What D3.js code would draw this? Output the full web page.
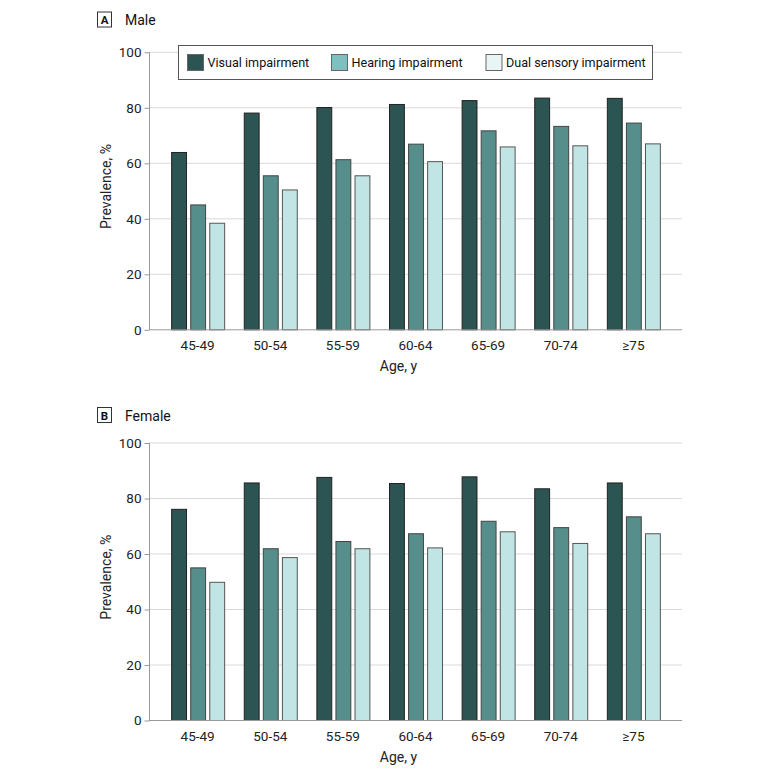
<!DOCTYPE html>
<html>
<head>
<meta charset="utf-8">
<script src="https://cdn.jsdelivr.net/npm/d3@7"></script>
<style>
  body { margin: 0; background: #fff; }
  svg { display: block; font-family: Roboto, "Liberation Sans", Arial, sans-serif; }
</style>
</head>
<body>
<svg id="chart" width="780" height="775"></svg>
<script>
const ageGroups = ["45-49", "50-54", "55-59", "60-64", "65-69", "70-74", "\u226575"];
const seriesNames = ["Visual impairment", "Hearing impairment", "Dual sensory impairment"];
const maleVisual  = [63.9, 78.1, 80.1, 81.2, 82.6, 83.5, 83.4];
const maleHearing = [45.0, 55.5, 61.3, 66.9, 71.7, 73.3, 74.5];
const maleDual    = [38.4, 50.4, 55.5, 60.6, 65.9, 66.3, 67.0];
const femaleVisual  = [76.1, 85.6, 87.6, 85.4, 87.8, 83.5, 85.6];
const femaleHearing = [55.0, 61.9, 64.5, 67.3, 71.8, 69.5, 73.4];
const femaleDual    = [49.8, 58.7, 61.9, 62.2, 68.0, 63.8, 67.3];
const yTicks = [0, 20, 40, 60, 80, 100];

const barColors = ["#2b5452", "#568e8b", "#c0e5e4"];
const legendColors = ["#2b5452", "#7fbfbf", "#e9f5f5"];
const barStrokes = ["#222", "#444", "#555"];
const FONT = "Roboto, Liberation Sans, Arial, sans-serif";

const svg = d3.select("#chart");
const left = 149, right = 682;

const x0 = d3.scaleBand().domain(ageGroups).range([left, right]).paddingInner(0.27).paddingOuter(0.305);
const x1 = d3.scaleBand().domain(seriesNames).range([0, x0.bandwidth()]).paddingInner(0.22);

function panel(letter, title, labelY, yBottom, yTop, data) {
  const g = svg.append("g");
  const y = d3.scaleLinear().domain([0, 100]).range([yBottom, yTop]);

  // panel label
  g.append("rect").attr("x", 97.5).attr("y", labelY - 14.5).attr("width", 14).attr("height", 15)
    .attr("fill", "#fff").attr("stroke", "#333").attr("stroke-width", 1);
  g.append("text").attr("x", 104.5).attr("y", labelY - 2.5).attr("text-anchor", "middle")
    .attr("font-size", 11.5).attr("font-weight", "bold").attr("fill", "#111").text(letter);
  g.append("text").attr("x", 125).attr("y", labelY - 1.5)
    .attr("font-size", 14).attr("fill", "#111").text(title);

  // gridlines
  g.append("g").selectAll("line").data(yTicks.filter(d => d > 0)).join("line")
    .attr("x1", left).attr("x2", right)
    .attr("y1", d => y(d) + 0.5).attr("y2", d => y(d) + 0.5)
    .attr("stroke", "#d9d9d9").attr("stroke-width", 1);

  // bars
  const groups = g.append("g").selectAll("g").data(ageGroups).join("g")
    .attr("transform", d => `translate(${x0(d)},0)`);
  groups.selectAll("rect").data((d, i) => seriesNames.map((s, j) => ({s, j, v: data[j][i]}))).join("rect")
    .attr("x", d => x1(d.s) + 0.5)
    .attr("y", d => y(d.v) + 0.5)
    .attr("width", x1.bandwidth())
    .attr("height", d => yBottom - y(d.v))
    .attr("fill", d => barColors[d.j])
    .attr("stroke", d => barStrokes[d.j])
    .attr("stroke-width", 1);

  // y axis
  const yAxis = d3.axisLeft(y).tickValues(yTicks).tickSize(5).tickPadding(3);
  const ya = g.append("g").attr("transform", `translate(${left + 0.5},0.5)`).call(yAxis);
  ya.select(".domain").attr("stroke", "#999").attr("d", `M0,${yBottom}V${yTop}`);
  ya.selectAll(".tick line").attr("stroke", "#999");
  ya.selectAll(".tick text").attr("font-size", 13.5).attr("fill", "#222").attr("font-family", FONT);

  // x axis
  const xAxis = d3.axisBottom(x0).tickSize(0).tickPadding(11);
  const xa = g.append("g").attr("transform", `translate(0,${yBottom + 0.5})`).call(xAxis);
  xa.select(".domain").attr("stroke", "#999").attr("d", `M${left},0H${right}`);
  xa.selectAll(".tick text").attr("font-size", 13.5).attr("fill", "#222").attr("font-family", FONT);

  // axis titles
  g.append("text").attr("x", (left + right) / 2 - 17).attr("y", yBottom + 42)
    .attr("text-anchor", "middle").attr("font-size", 14).attr("fill", "#222").text("Age, y");
  g.append("text").attr("transform", `translate(111,${(yBottom + yTop) / 2 - 4}) rotate(-90)`)
    .attr("text-anchor", "middle").attr("font-size", 14).attr("fill", "#222").text("Prevalence, %");
  return g;
}

panel("A", "Male", 26.5, 329.3, 51.8, [maleVisual, maleHearing, maleDual]);
panel("B", "Female", 422, 720, 442.5, [femaleVisual, femaleHearing, femaleDual]);

// legend (panel A)
const lg = svg.append("g");
lg.append("rect").attr("x", 178.5).attr("y", 45.5).attr("width", 474).attr("height", 34)
  .attr("fill", "#fff").attr("stroke", "#555").attr("stroke-width", 1);
const legendX = [187.5, 331.5, 486];
seriesNames.forEach((s, i) => {
  lg.append("rect").attr("x", legendX[i]).attr("y", 54.5).attr("width", 16).attr("height", 16)
    .attr("fill", legendColors[i]).attr("stroke", "#666").attr("stroke-width", 1);
  lg.append("text").attr("x", legendX[i] + 20).attr("y", 67)
    .attr("font-size", 12.6).attr("fill", "#111").text(s);
});
</script>
</body>
</html>
